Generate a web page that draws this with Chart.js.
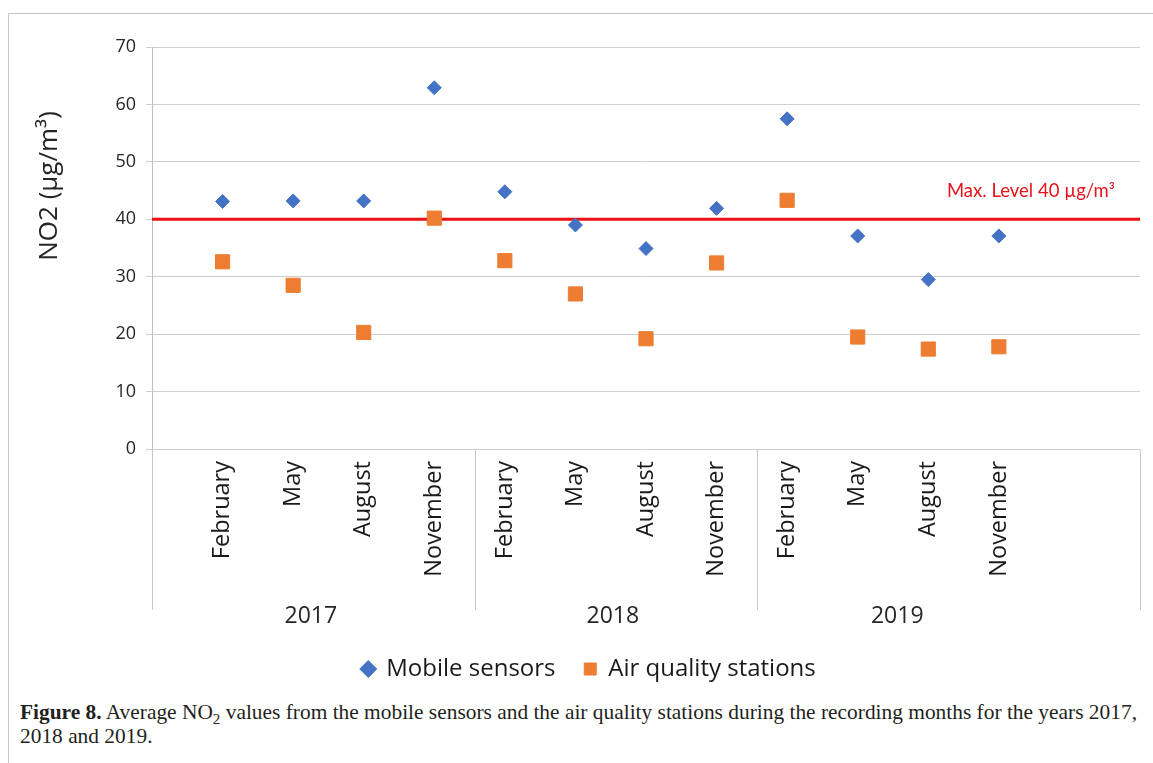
<!DOCTYPE html>
<html lang="en">
<head>
<meta charset="UTF-8">
<title>NO2 mobile sensors vs air quality stations</title>
<script src="https://cdn.jsdelivr.net/npm/chart.js"></script>
<style>
    body { margin: 0; background: #fff; width: 1153px; height: 763px; overflow: hidden; position: relative; }
    .moldura { position: absolute; left: 8px; top: 13px; width: 1160px; height: 760px; border-left: 1px solid #c8c8c8; border-top: 1px solid #c8c8c8; }
    #grafico { position: absolute; left: 0; top: 0; }
    .legenda-fig { position: absolute; left: 20px; top: 700px; width: 1130px; font-family: "Liberation Serif", serif; font-size: 21.4px; line-height: 24px; color: #231f20; white-space: nowrap; }
</style>
</head>
<body>
<div class="moldura"></div>
<canvas id="grafico" width="1153" height="700"></canvas>
<div class="legenda-fig"><b>Figure 8.</b> Average NO<sub style="font-size:15px;line-height:0">2</sub> values from the mobile sensors and the air quality stations during the recording months for the years 2017,<br>2018 and 2019.</div>
<script>
    // dados
    var meses = ['February', 'May', 'August', 'November', 'February', 'May', 'August', 'November', 'February', 'May', 'August', 'November'];
    var anos = ['2017', '2018', '2019'];
    var sensoresMoveis = [43.1, 43.2, 43.2, 62.9, 44.8, 39.0, 34.9, 41.9, 57.5, 37.1, 29.5, 37.1];
    var estacoes = [32.6, 28.5, 20.3, 40.2, 32.8, 27.0, 19.2, 32.4, 43.3, 19.5, 17.4, 17.8];
    var limiteMax = 40;
    // posicoes dos grupos de ano no eixo x (em unidades do eixo)
    var divisoesAno = [0, 4.58, 8.57, 14];
    var centrosAno = [2.25, 6.53, 10.56];

    function pontos(valores) {
        return valores.map(function (v, i) { return { x: i + 1, y: v }; });
    }

    var extras = {
        id: 'extras',
        afterDraw: function (chart) {
            var ctx = chart.ctx;
            var x = chart.scales.x;
            var y = chart.scales.y;
            var base = chart.chartArea.bottom;
            ctx.save();
            // linhas que separam os anos
            ctx.strokeStyle = '#c8c8c8';
            ctx.lineWidth = 1;
            divisoesAno.forEach(function (d) {
                var px = Math.round(x.getPixelForValue(d)) + 0.5;
                ctx.beginPath();
                ctx.moveTo(px, base);
                ctx.lineTo(px, 610);
                ctx.stroke();
            });
            ctx.fillStyle = '#262626';
            ctx.font = '23px "Open Sans"';
            ctx.textAlign = 'center';
            ctx.textBaseline = 'middle';
            anos.forEach(function (a, i) {
                ctx.fillText(a, x.getPixelForValue(centrosAno[i]), 616);
            });
            // titulo do eixo y
            ctx.save();
            ctx.translate(50, 186);
            ctx.rotate(-Math.PI / 2);
            ctx.font = '26px "Open Sans"';
            ctx.fillStyle = '#262626';
            ctx.fillText('NO2 (µg/m³)', 0, 0);
            ctx.restore();
            // texto do limite
            ctx.fillStyle = '#e8131b';
            ctx.font = '18.5px Lato';
            ctx.textAlign = 'right';
            ctx.fillText('Max. Level 40 µg/m³', 1115, y.getPixelForValue(limiteMax) - 28);
            ctx.restore();
        }
    };

    const chart = new Chart('grafico', {
        type: 'scatter',
        data: {
            datasets: [{
                label: 'Mobile sensors',
                data: pontos(sensoresMoveis),
                backgroundColor: '#4472C4',
                borderColor: '#4472C4',
                pointStyle: 'rectRot',
                pointRadius: 7,
                pointHoverRadius: 7,
                order: 1
            }, {
                label: 'Air quality stations',
                data: pontos(estacoes),
                backgroundColor: '#ED7D31',
                borderColor: '#ED7D31',
                pointStyle: 'rect',
                pointRadius: 10,
                pointHoverRadius: 10,
                order: 2
            }, {
                label: 'Max',
                type: 'line',
                data: [{ x: 0, y: limiteMax }, { x: 14, y: limiteMax }],
                borderColor: '#ee1111',
                borderWidth: 3,
                pointRadius: 0,
                order: 3
            }]
        },
        options: {
            responsive: false,
            animation: false,
            devicePixelRatio: 1,
            layout: { padding: { left: 38, right: 13, top: 47, bottom: 9 } },
            plugins: {
                tooltip: { enabled: false },
                legend: {
                    position: 'bottom',
                    labels: {
                        usePointStyle: true,
                        boxWidth: 12,
                        boxHeight: 12,
                        padding: 10,
                        color: '#1a1a1a',
                        font: { family: 'Open Sans', size: 24 },
                        filter: function (item) { return item.text !== 'Max'; },
                        generateLabels: function (c) {
                            var itens = Chart.defaults.plugins.legend.labels.generateLabels(c);
                            // espaco extra entre os dois itens, como na figura
                            itens.forEach(function (it) { if (it.text === 'Mobile sensors') it.text = 'Mobile sensors   '; });
                            return itens;
                        }
                    }
                }
            },
            scales: {
                x: {
                    type: 'linear',
                    min: 0,
                    max: 14,
                    afterBuildTicks: function (scale) {
                        scale.ticks = meses.map(function (m, i) { return { value: i + 1 }; });
                    },
                    afterFit: function (scale) { scale.height = 198; },
                    grid: { display: false, drawTicks: false },
                    border: { display: false },
                    ticks: {
                        autoSkip: false,
                        minRotation: 90,
                        maxRotation: 90,
                        padding: 12,
                        color: '#1a1a1a',
                        font: { family: 'Open Sans', size: 23.5 },
                        callback: function (v) { return meses[v - 1]; }
                    }
                },
                y: {
                    min: 0,
                    max: 70,
                    afterFit: function (scale) { scale.width = 114; },
                    grid: { color: '#d0d0d0', tickLength: 6 },
                    border: { color: '#c0c0c0' },
                    ticks: {
                        stepSize: 10,
                        padding: 10,
                        color: '#262626',
                        font: { family: 'Open Sans', size: 18 }
                    }
                }
            }
        },
        plugins: [extras]
    });
</script>
</body>
</html>
